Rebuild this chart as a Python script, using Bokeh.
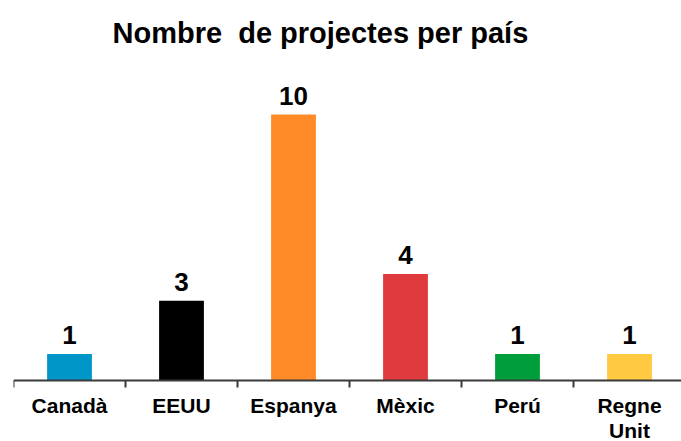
from bokeh.plotting import figure
from bokeh.models import Range1d, Span, ColumnDataSource
from bokeh.core.properties import value
from bokeh.embed import file_html
from bokeh.resources import INLINE

# ---- data ----
categories = ["Canadà", "EEUU", "Espanya", "Mèxic", "Perú", "Regne\nUnit"]
projects = [1, 3, 10, 4, 1, 1]
colors = ["#0096C8", "#000000", "#FF8A28", "#DF3B3E", "#009E3A", "#FFC940"]
title_text = "Nombre\u00a0 de projectes per país"

# ---- layout constants (pixels) ----
W, H = 681, 441
left_border, top_border = 13, 62
px_per_cat = 112
px_per_unit = 26.6
zero_from_bottom = 61   # axis line distance from frame bottom

frame_w = W - left_border
frame_h = H - top_border
n = len(categories)
centers = [i + 0.5 for i in range(n)]
bounds = list(range(n + 1))

x_range = Range1d(0, frame_w / px_per_cat)
y_range = Range1d(-zero_from_bottom / px_per_unit, (frame_h - zero_from_bottom) / px_per_unit)

p = figure(width=W, height=H, x_range=x_range, y_range=y_range,
           output_backend="svg", toolbar_location=None,
           min_border_left=left_border, min_border_right=0,
           min_border_top=top_border, min_border_bottom=0)
p.axis.visible = False
p.grid.visible = False
p.outline_line_color = None
p.background_fill_color = "white"
p.border_fill_color = "white"

p.title.text = title_text
p.title.text_font = "Liberation Sans"
p.title.text_font_size = "29px"
p.title.text_font_style = "bold"
p.title.text_color = "#000000"
p.title.align = "left"
p.title.offset = 99
p.title.standoff = 27

src = ColumnDataSource(dict(x=centers, top=projects, color=colors,
                            label=[str(v) for v in projects], cat=categories))

p.vbar(x="x", top="top", bottom=0, width=0.4, fill_color="color",
       line_color=None, source=src)

# value labels
p.text(x="x", y="top", text="label", source=src, text_align="center",
       text_baseline="alphabetic", y_offset=-19,
       text_font=value("Liberation Sans"), text_font_style="bold",
       text_font_size="26px", text_color="#000000")

# axis line and boundary ticks
p.add_layout(Span(location=0, dimension="width", line_color="#3a3a3a", line_width=2))
tick_len = 7 / px_per_unit
p.segment(x0=bounds, y0=[0] * len(bounds), x1=bounds, y1=[-tick_len] * len(bounds),
          line_color="#3a3a3a", line_width=2)

# category labels
p.text(x="x", y=0, text="cat", source=src, text_align="center",
       text_baseline="top", y_offset=13, text_line_height=1.1,
       text_font=value("Liberation Sans"), text_font_style="bold",
       text_font_size="21px", text_color="#000000")

open("out.html", "w").write(file_html(p, INLINE))
